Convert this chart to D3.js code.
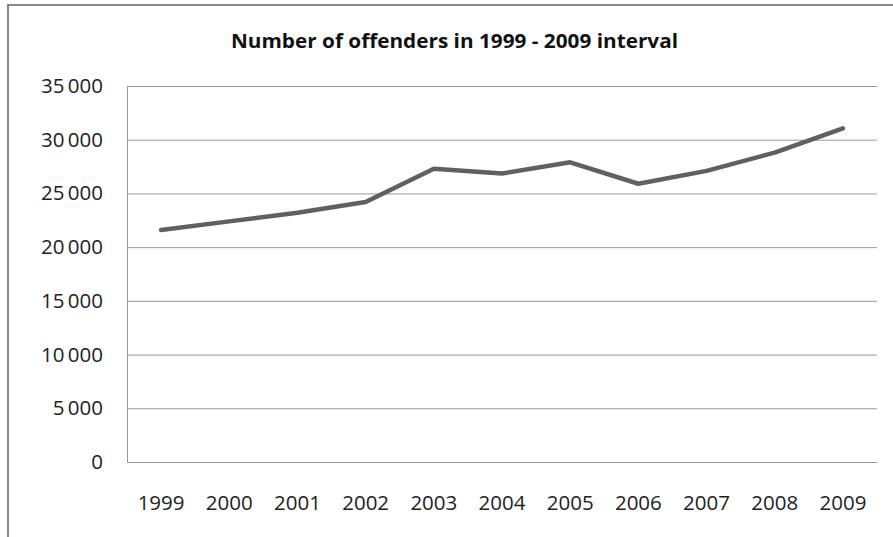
<!DOCTYPE html>
<html>
<head>
<meta charset="utf-8">
<script src="https://cdn.jsdelivr.net/npm/d3@7"></script>
<style>
  body { margin: 0; background: #fff; }
  svg { display: block; font-family: "Open Sans", "Noto Sans", sans-serif; }
</style>
</head>
<body>
<div id="draw"></div>
<script>
// values
var years = ["1999", "2000", "2001", "2002", "2003", "2004", "2005", "2006", "2007", "2008", "2009"];
var offenders = [21600, 22400, 23200, 24200, 27300, 26850, 27900, 25900, 27100, 28800, 31050];
var yTicks = [0, 5000, 10000, 15000, 20000, 25000, 30000, 35000];
var title = "Number of offenders in 1999 - 2009 interval";

(function () {
    "use strict";

    var width = 893,
        height = 537,
        plot = { left: 127, top: 86, right: 877, bottom: 462 };

    var svg = d3.select('#draw').append('svg')
        .attr('width', width)
        .attr('height', height);

    // chart frame (only top and left edges are visible in the crop)
    svg.append('rect')
        .attr('x', 8)
        .attr('y', 5)
        .attr('width', 900)
        .attr('height', 560)
        .attr('fill', '#fff')
        .attr('stroke', '#888')
        .attr('stroke-width', 2);

    var x = d3.scaleBand()
        .domain(years)
        .range([plot.left, plot.right]);

    var y = d3.scaleLinear()
        .domain([0, 35000])
        .range([plot.bottom, plot.top]);

    var fmt = function (d) {
        return d3.format(',')(d).replace(/,/g, '\u2009');
    };

    // horizontal gridlines + labels
    var yAxis = d3.axisLeft(y)
        .tickValues(yTicks)
        .tickSize(-(plot.right - plot.left))
        .tickPadding(24)
        .tickFormat(fmt);

    var gy = svg.append('g')
        .attr('transform', 'translate(' + plot.left + ',0)')
        .call(yAxis)
        .attr('font-family', null);
    gy.select('.domain').remove();
    gy.selectAll('.tick line')
        .attr('stroke', '#999')
        .attr('stroke-width', 1);
    gy.selectAll('.tick text')
        .attr('fill', '#222')
        .attr('font-size', 20.5);

    // vertical axis line
    svg.append('line')
        .attr('x1', plot.left + 0.5)
        .attr('x2', plot.left + 0.5)
        .attr('y1', plot.top)
        .attr('y2', plot.bottom)
        .attr('stroke', '#999');

    // category labels
    var xAxis = d3.axisBottom(x)
        .tickSize(0)
        .tickPadding(33);

    var gx = svg.append('g')
        .attr('transform', 'translate(0,' + plot.bottom + ')')
        .call(xAxis)
        .attr('font-family', null);
    gx.select('.domain').remove();
    gx.selectAll('.tick text')
        .attr('fill', '#222')
        .attr('font-size', 20.5);

    // the series line
    var line = d3.line()
        .x(function (d, i) { return x(years[i]) + x.bandwidth() / 2; })
        .y(function (d) { return y(d); });

    svg.append('path')
        .datum(offenders)
        .attr('d', line)
        .attr('fill', 'none')
        .attr('stroke', '#606060')
        .attr('stroke-width', 4.5)
        .attr('stroke-linejoin', 'round')
        .attr('stroke-linecap', 'round');

    // title
    svg.append('text')
        .attr('x', 454.5)
        .attr('y', 48)
        .attr('text-anchor', 'middle')
        .attr('font-size', 19.5)
        .attr('font-weight', 'bold')
        .attr('textLength', 447)
        .attr('lengthAdjust', 'spacingAndGlyphs')
        .attr('fill', '#111')
        .text(title);
}());
</script>
</body>
</html>
